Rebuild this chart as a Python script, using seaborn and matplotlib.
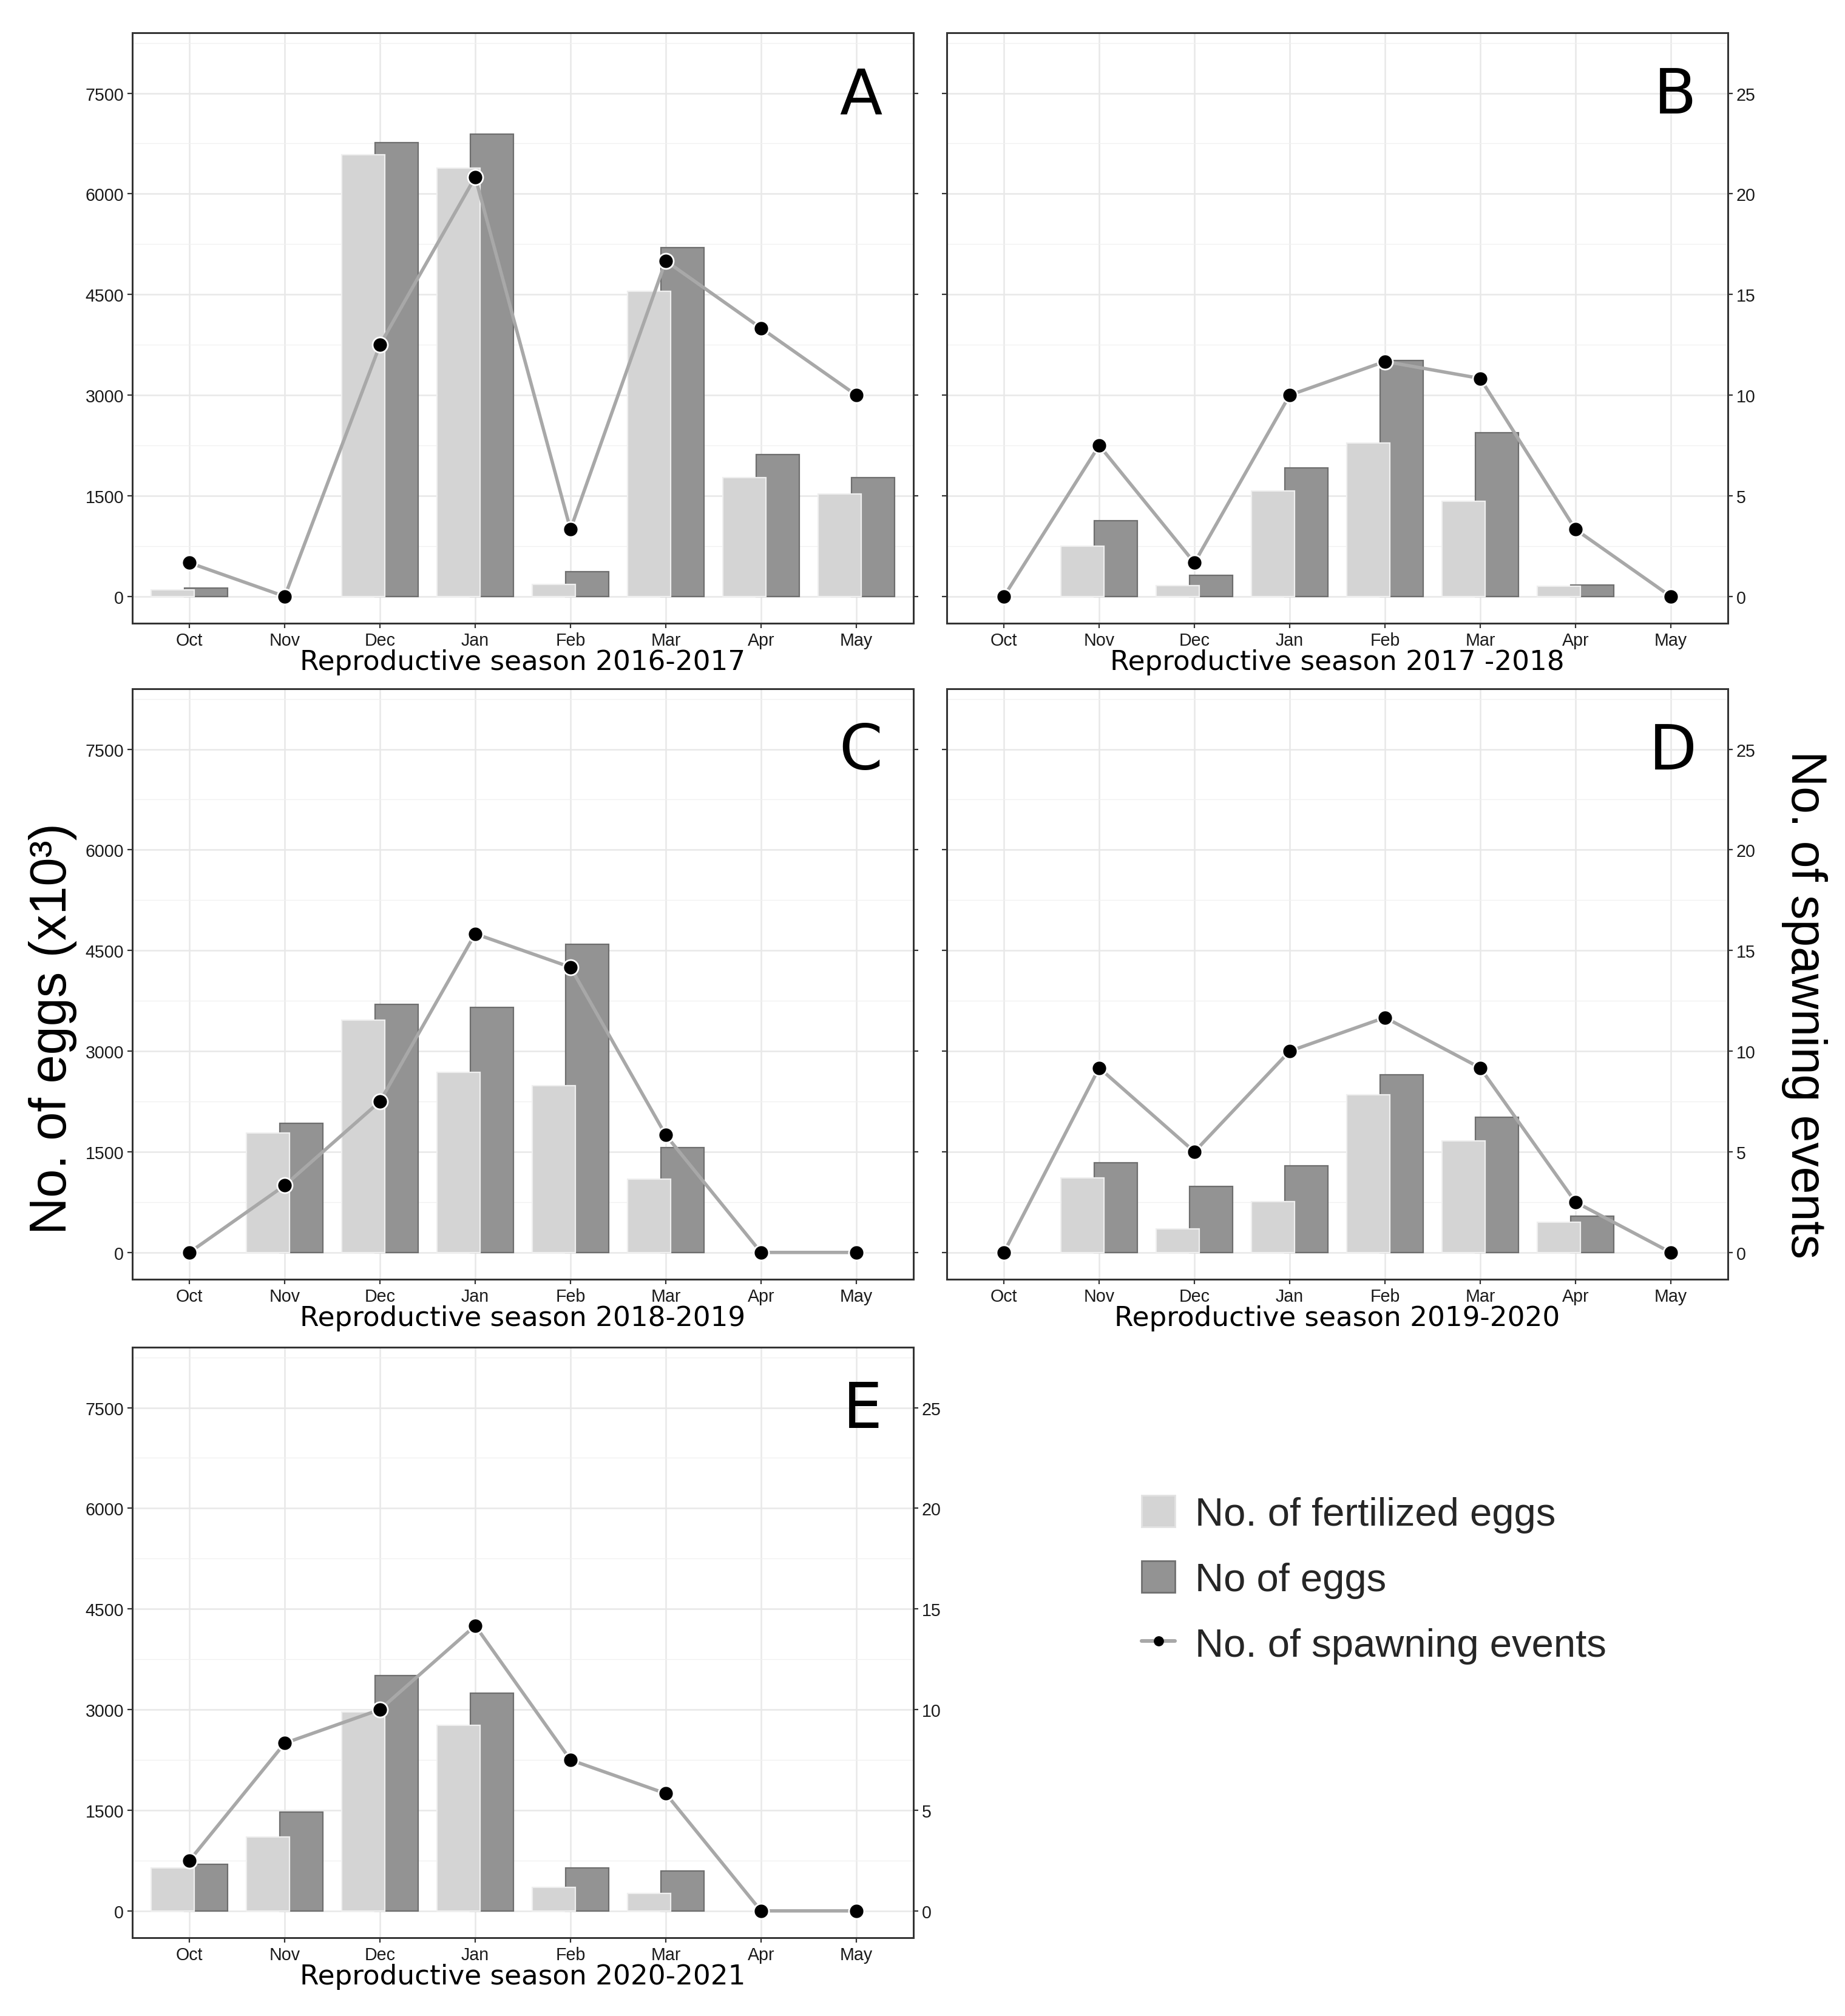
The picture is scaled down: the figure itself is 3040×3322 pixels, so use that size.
import numpy as np
import pandas as pd
import matplotlib
matplotlib.use("Agg")
import matplotlib.pyplot as plt
from matplotlib.patches import Patch
from matplotlib.lines import Line2D
from matplotlib.ticker import MultipleLocator
import seaborn as sns

sns.set_theme(style="white")
plt.rcParams["font.family"] = ["Liberation Sans", "DejaVu Sans"]

months = ["Oct", "Nov", "Dec", "Jan", "Feb", "Mar", "Apr", "May"]
seasons = ["2016-2017", "2017 -2018", "2018-2019", "2019-2020", "2020-2021"]
letters = ["A", "B", "C", "D", "E"]

# eggs (x10^3) and spawning events
fert_a = [95, 0, 6584, 6381, 183, 4543, 1769, 1529]
eggs_a = [126, 0, 6767, 6893, 366, 5200, 2110, 1769]
spawn_a = [1.67, 0, 12.5, 20.83, 3.33, 16.67, 13.33, 10]

fert_b = [0, 752, 164, 1573, 2287, 1422, 152, 0]
eggs_b = [0, 1125, 310, 1914, 3513, 2439, 171, 0]
spawn_b = [0, 7.5, 1.67, 10, 11.67, 10.83, 3.33, 0]

fert_c = [0, 1783, 3459, 2688, 2485, 1088, 0, 0]
eggs_c = [0, 1923, 3693, 3649, 4591, 1562, 0, 0]
spawn_c = [0, 3.33, 7.5, 15.83, 14.17, 5.83, 0, 0]

fert_d = [0, 1108, 355, 760, 2350, 1666, 450, 0]
eggs_d = [0, 1337, 982, 1292, 2648, 2014, 538, 0]
spawn_d = [0, 9.17, 5, 10, 11.67, 9.17, 2.5, 0]

fert_e = [638, 1102, 2964, 2764, 348, 264, 0, 0]
eggs_e = [696, 1475, 3505, 3247, 638, 593, 0, 0]
spawn_e = [2.5, 8.33, 10, 14.17, 7.5, 5.83, 0, 0]

FERT = "No. of fertilized eggs"
EGGS = "No of eggs"
SPAWN = "No. of spawning events"
LIGHT = "#d4d4d4"
DARK = "#939393"
LINE = "#a8a8a8"
RATIO = 300  # eggs axis / events axis

W, H = 3040, 3323
fig = plt.figure(figsize=(W / 200, H / 200), dpi=200)


def add_ax(left, top, width=1287, height=973):
    return fig.add_axes([left / W, 1 - (top + height) / H, width / W, height / H])


panels = [
    (fert_a, eggs_a, spawn_a, 218, 55, True, False),
    (fert_b, eggs_b, spawn_b, 1560, 55, False, True),
    (fert_c, eggs_c, spawn_c, 218, 1136, True, False),
    (fert_d, eggs_d, spawn_d, 1560, 1136, False, True),
    (fert_e, eggs_e, spawn_e, 218, 2221, True, True),
]

for i, (fert, eggs, spawn, left, top, lab_l, lab_r) in enumerate(panels):
    ax = add_ax(left, top)
    df = pd.DataFrame({"month": months * 2,
                       "kind": [FERT] * len(months) + [EGGS] * len(months),
                       "eggs": fert + eggs})
    sns.barplot(data=df, x="month", y="eggs", hue="kind", hue_order=[FERT, EGGS],
                palette=[LIGHT, DARK], saturation=1, width=0.8, dodge=True,
                errorbar=None, legend=False, ax=ax)
    # overlapping bars like the original, light one in front
    for cont, shift, ec, z in zip(ax.containers, (0.025, -0.025),
                                  ("#efefef", "#6e6e6e"), (3, 2)):
        for r in cont:
            cx = r.get_x() + r.get_width() / 2 + shift
            r.set_width(0.45)
            r.set_x(cx - 0.225)
            r.set_edgecolor(ec)
            r.set_linewidth(0.8)
            r.set_zorder(z)
            if r.get_height() == 0:
                r.set_visible(False)

    ax2 = ax.twinx()
    sns.lineplot(x=np.arange(len(months)), y=spawn, ax=ax2, color=LINE, linewidth=2.0,
                 marker="o", markersize=9, markerfacecolor="black",
                 markeredgecolor="white", markeredgewidth=1.0)

    ax.set_xticks(range(len(months)), months)
    ax.set_xlim(-0.6, len(months) - 0.4)
    ax.set_ylim(-400, 8400)
    ax2.set_ylim(-400 / RATIO, 8400 / RATIO)
    ax.yaxis.set_major_locator(MultipleLocator(1500))
    ax.yaxis.set_minor_locator(MultipleLocator(750))
    ax2.yaxis.set_major_locator(MultipleLocator(5))

    ax.set_axisbelow(True)
    ax.grid(True, which="major", color="#e8e8e8", linewidth=0.9)
    ax.grid(True, which="minor", axis="y", color="#f1f1f1", linewidth=0.5)

    for a in (ax, ax2):
        a.tick_params(which="major", direction="out", length=3, width=0.8,
                      color="#333333", labelsize=10.3, labelcolor="#1a1a1a", pad=2)
        a.tick_params(which="minor", length=0)
        for s in a.spines.values():
            s.set_color("#333333")
            s.set_linewidth(1.0)
    ax.tick_params(axis="y", left=True, labelleft=lab_l)
    ax.tick_params(axis="x", bottom=True)
    ax2.tick_params(axis="y", right=True, labelright=lab_r)

    ax.set_ylabel("")
    ax2.set_ylabel("")
    ax.set_xlabel(f"Reproductive season {seasons[i]}", fontsize=16.3,
                  family="DejaVu Sans", color="black", labelpad=0)
    ax.text(0.96, 0.864, letters[i], transform=ax.transAxes, ha="right",
            va="baseline", fontsize=37, family="DejaVu Sans", color="black", zorder=5)

fig.text(87 / W, 1 - 1695 / H, "No. of eggs (x10³)", rotation=90,
         ha="center", va="center", fontsize=30.5, color="black")
fig.text(2973 / W, 1 - 1655 / H, SPAWN, rotation=270,
         ha="center", va="center", fontsize=29, color="black")

handles = [Patch(facecolor=LIGHT, edgecolor="#e2e2e2"),
           Patch(facecolor=DARK, edgecolor="#707070"),
           Line2D([], [], color=LINE, linewidth=2.2, marker="o", markersize=5,
                  markerfacecolor="black", markeredgecolor="black")]
fig.legend(handles, [FERT, EGGS, SPAWN], loc="upper left",
           bbox_to_anchor=(1881 / W, 1 - 2465 / H), frameon=False, fontsize=23.5,
           handlelength=0.85, handleheight=0.85, handletextpad=0.5,
           labelspacing=0.71, borderpad=0, borderaxespad=0)

fig.savefig("out.png", dpi=200, facecolor="white")
